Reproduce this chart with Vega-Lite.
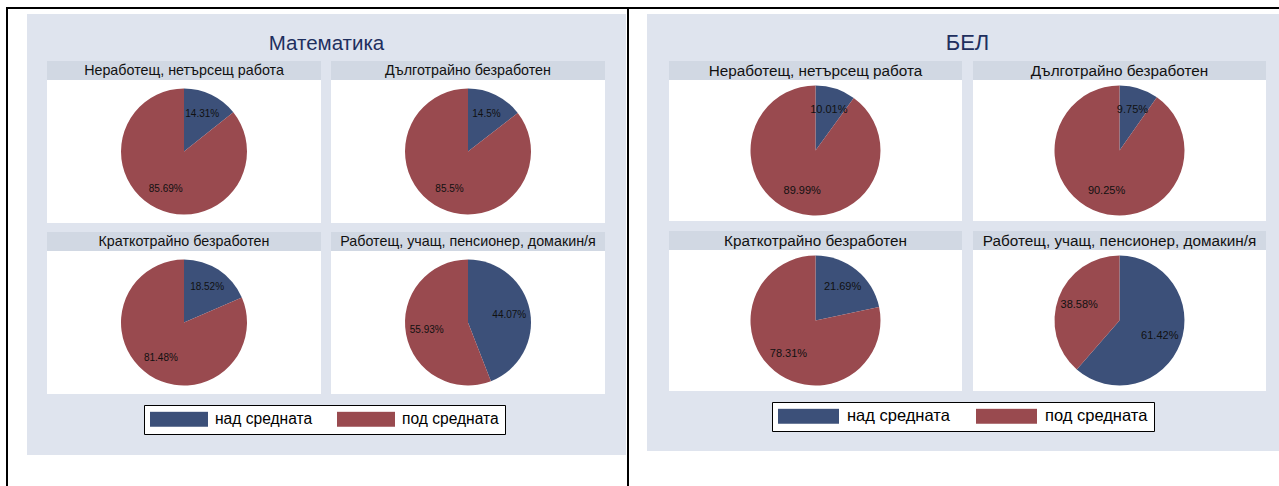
{
  "$schema": "https://vega.github.io/schema/vega-lite/v6.json",
  "padding": 0,
  "background": "#dfe4ee",
  "config": {
    "view": {"stroke": null},
    "concat": {"spacing": 0},
    "text": {"font": "Liberation Sans"},
    "legend": {"labelFont": "Liberation Sans"}
  },
  "data": {"values": [
    {"subject": "Математика", "status": "Неработещ, нетърсещ работа", "category": "над средната", "share": 0.1431},
    {"subject": "Математика", "status": "Неработещ, нетърсещ работа", "category": "под средната", "share": 0.8569},
    {"subject": "Математика", "status": "Дълготрайно безработен", "category": "над средната", "share": 0.145},
    {"subject": "Математика", "status": "Дълготрайно безработен", "category": "под средната", "share": 0.855},
    {"subject": "Математика", "status": "Краткотрайно безработен", "category": "над средната", "share": 0.1852},
    {"subject": "Математика", "status": "Краткотрайно безработен", "category": "под средната", "share": 0.8148},
    {"subject": "Математика", "status": "Работещ, учащ, пенсионер, домакин/я", "category": "над средната", "share": 0.4407},
    {"subject": "Математика", "status": "Работещ, учащ, пенсионер, домакин/я", "category": "под средната", "share": 0.5593},
    {"subject": "БЕЛ", "status": "Неработещ, нетърсещ работа", "category": "над средната", "share": 0.1001},
    {"subject": "БЕЛ", "status": "Неработещ, нетърсещ работа", "category": "под средната", "share": 0.8999},
    {"subject": "БЕЛ", "status": "Дълготрайно безработен", "category": "над средната", "share": 0.0975},
    {"subject": "БЕЛ", "status": "Дълготрайно безработен", "category": "под средната", "share": 0.9025},
    {"subject": "БЕЛ", "status": "Краткотрайно безработен", "category": "над средната", "share": 0.2169},
    {"subject": "БЕЛ", "status": "Краткотрайно безработен", "category": "под средната", "share": 0.7831},
    {"subject": "БЕЛ", "status": "Работещ, учащ, пенсионер, домакин/я", "category": "над средната", "share": 0.6142},
    {"subject": "БЕЛ", "status": "Работещ, учащ, пенсионер, домакин/я", "category": "под средната", "share": 0.3858}
  ]},
  "resolve": {"scale": {"color": "independent"}, "legend": {"color": "independent"}},
  "vconcat": [
    {"width": 1279, "height": 7, "data": {"values": []}, "mark": "rect", "view": {"fill": "white"}},
    {"hconcat": [
      {"width": 6, "height": 2, "data": {"values": []}, "mark": "rect", "view": {"fill": "white"}},
      {"width": 1273, "height": 2, "data": {"values": []}, "mark": "rect", "view": {"fill": "black"}}
    ]},
    {"resolve": {"scale": {"color": "independent"}, "legend": {"color": "independent"}},
     "hconcat": [
      {"width": 6, "height": 477, "data": {"values": []}, "mark": "rect", "view": {"fill": "white"}},
      {"width": 2, "height": 477, "data": {"values": []}, "mark": "rect", "view": {"fill": "black"}},
      {"resolve": {"scale": {"color": "independent"}, "legend": {"color": "independent"}},
       "vconcat": [
        {"width": 619, "height": 5, "data": {"values": []}, "mark": "rect", "view": {"fill": "white"}},
        {"resolve": {"scale": {"color": "independent"}, "legend": {"color": "independent"}},
         "hconcat": [
          {"width": 19, "height": 441, "data": {"values": []}, "mark": "rect", "view": {"fill": "white"}},
          {"resolve": {"scale": {"color": "independent"}, "legend": {"color": "independent"}},
           "vconcat": [
            {"width": 599, "height": 47,
             "transform": [{"filter": "datum.subject === 'Математика' && datum.status === 'Неработещ, нетърсещ работа' && datum.category === 'над средната'"}],
             "mark": {"type": "text", "fontSize": 20.5, "color": "#1e2f5e", "dy": 6.5},
             "encoding": {"text": {"field": "subject"}}},
            {"spacing": 10, "hconcat": [
              {"width": 10, "height": 1, "data": {"values": []}, "mark": "rect"},
              {"vconcat": [
                {"width": 274, "height": 19, "view": {"fill": "#d1d8e3"},
                 "transform": [{"filter": "datum.subject === 'Математика' && datum.status === 'Неработещ, нетърсещ работа' && datum.category === 'над средната'"}],
                 "mark": {"type": "text", "fontSize": 14.3, "color": "#111111"},
                 "encoding": {"text": {"field": "status"}}},
                {"width": 274, "height": 143, "view": {"fill": "white"},
                 "transform": [{"filter": "datum.subject === 'Математика' && datum.status === 'Неработещ, нетърсещ работа'"}],
                 "encoding": {
                   "theta": {"field": "share", "type": "quantitative", "stack": true},
                   "order": {"field": "category", "type": "ordinal", "sort": "ascending"},
                   "detail": {"field": "category", "type": "nominal"}},
                 "layer": [
                   {"mark": {"type": "arc", "radius": 63}, "encoding": {"color": {"condition": {"test": "datum.category === 'над средната'", "value": "#3c5079"}, "value": "#994a4f"}}},
                   {"mark": {"type": "text", "radius": 42, "fontSize": 10, "color": "#111111"}, "encoding": {"text": {"field": "share", "type": "quantitative", "format": ".2~%"}}}
                 ]}
              ]},
              {"vconcat": [
                {"width": 274, "height": 19, "view": {"fill": "#d1d8e3"},
                 "transform": [{"filter": "datum.subject === 'Математика' && datum.status === 'Дълготрайно безработен' && datum.category === 'над средната'"}],
                 "mark": {"type": "text", "fontSize": 14.3, "color": "#111111"},
                 "encoding": {"text": {"field": "status"}}},
                {"width": 274, "height": 143, "view": {"fill": "white"},
                 "transform": [{"filter": "datum.subject === 'Математика' && datum.status === 'Дълготрайно безработен'"}],
                 "encoding": {
                   "theta": {"field": "share", "type": "quantitative", "stack": true},
                   "order": {"field": "category", "type": "ordinal", "sort": "ascending"},
                   "detail": {"field": "category", "type": "nominal"}},
                 "layer": [
                   {"mark": {"type": "arc", "radius": 63}, "encoding": {"color": {"condition": {"test": "datum.category === 'над средната'", "value": "#3c5079"}, "value": "#994a4f"}}},
                   {"mark": {"type": "text", "radius": 42, "fontSize": 10, "color": "#111111"}, "encoding": {"text": {"field": "share", "type": "quantitative", "format": ".2~%"}}}
                 ]}
              ]}
            ]},
            {"width": 1, "height": 9, "data": {"values": []}, "mark": "rect"},
            {"spacing": 10, "hconcat": [
              {"width": 10, "height": 1, "data": {"values": []}, "mark": "rect"},
              {"vconcat": [
                {"width": 274, "height": 19, "view": {"fill": "#d1d8e3"},
                 "transform": [{"filter": "datum.subject === 'Математика' && datum.status === 'Краткотрайно безработен' && datum.category === 'над средната'"}],
                 "mark": {"type": "text", "fontSize": 14.3, "color": "#111111"},
                 "encoding": {"text": {"field": "status"}}},
                {"width": 274, "height": 143, "view": {"fill": "white"},
                 "transform": [{"filter": "datum.subject === 'Математика' && datum.status === 'Краткотрайно безработен'"}],
                 "encoding": {
                   "theta": {"field": "share", "type": "quantitative", "stack": true},
                   "order": {"field": "category", "type": "ordinal", "sort": "ascending"},
                   "detail": {"field": "category", "type": "nominal"}},
                 "layer": [
                   {"mark": {"type": "arc", "radius": 63}, "encoding": {"color": {"condition": {"test": "datum.category === 'над средната'", "value": "#3c5079"}, "value": "#994a4f"}}},
                   {"mark": {"type": "text", "radius": 42, "fontSize": 10, "color": "#111111"}, "encoding": {"text": {"field": "share", "type": "quantitative", "format": ".2~%"}}}
                 ]}
              ]},
              {"vconcat": [
                {"width": 274, "height": 19, "view": {"fill": "#d1d8e3"},
                 "transform": [{"filter": "datum.subject === 'Математика' && datum.status === 'Работещ, учащ, пенсионер, домакин/я' && datum.category === 'над средната'"}],
                 "mark": {"type": "text", "fontSize": 14.3, "color": "#111111"},
                 "encoding": {"text": {"field": "status"}}},
                {"width": 274, "height": 143, "view": {"fill": "white"},
                 "transform": [{"filter": "datum.subject === 'Математика' && datum.status === 'Работещ, учащ, пенсионер, домакин/я'"}],
                 "encoding": {
                   "theta": {"field": "share", "type": "quantitative", "stack": true},
                   "order": {"field": "category", "type": "ordinal", "sort": "ascending"},
                   "detail": {"field": "category", "type": "nominal"}},
                 "layer": [
                   {"mark": {"type": "arc", "radius": 63}, "encoding": {"color": {"condition": {"test": "datum.category === 'над средната'", "value": "#3c5079"}, "value": "#994a4f"}}},
                   {"mark": {"type": "text", "radius": 42, "fontSize": 10, "color": "#111111"}, "encoding": {"text": {"field": "share", "type": "quantitative", "format": ".2~%"}}}
                 ]}
              ]}
            ]},
            {"width": 599, "height": 61,
             "transform": [{"filter": "datum.subject === 'Математика'"}],
             "mark": {"type": "rect", "opacity": 0},
             "encoding": {"color": {"field": "category", "type": "nominal",
               "scale": {"domain": ["над средната", "под средната"], "range": ["#3c5079", "#994a4f"]},
               "legend": {"title": null, "orient": "none", "legendX": 117, "legendY": 11, "direction": "horizontal",
                 "symbolType": "M-1,-0.2586H1V0.2586H-1Z", "symbolSize": 3364, "symbolStrokeWidth": 0, "symbolOpacity": 1,
                 "clipHeight": 16, "labelFontSize": 15.6, "labelColor": "#000000", "labelOffset": 7, "labelBaseline": "middle",
                 "columnPadding": 24, "padding": 6, "strokeColor": "#000000", "fillColor": "#ffffff"}}}}
          ]},
          {"width": 1, "height": 441, "data": {"values": []}, "mark": "rect", "view": {"fill": "white"}}
        ]},
        {"width": 619, "height": 31, "data": {"values": []}, "mark": "rect", "view": {"fill": "white"}}
      ]},
      {"width": 2, "height": 477, "data": {"values": []}, "mark": "rect", "view": {"fill": "black"}},
      {"resolve": {"scale": {"color": "independent"}, "legend": {"color": "independent"}},
       "vconcat": [
        {"width": 650, "height": 5, "data": {"values": []}, "mark": "rect", "view": {"fill": "white"}},
        {"resolve": {"scale": {"color": "independent"}, "legend": {"color": "independent"}},
         "hconcat": [
          {"width": 18, "height": 437, "data": {"values": []}, "mark": "rect", "view": {"fill": "white"}},
          {"resolve": {"scale": {"color": "independent"}, "legend": {"color": "independent"}},
           "vconcat": [
            {"width": 632, "height": 47,
             "transform": [{"filter": "datum.subject === 'БЕЛ' && datum.status === 'Неработещ, нетърсещ работа' && datum.category === 'над средната'"}],
             "mark": {"type": "text", "fontSize": 22, "color": "#1e2f5e", "dy": 5.5, "dx": 4.5},
             "encoding": {"text": {"field": "subject"}}},
            {"spacing": 11, "hconcat": [
              {"width": 11, "height": 1, "data": {"values": []}, "mark": "rect"},
              {"vconcat": [
                {"width": 293, "height": 19, "view": {"fill": "#d1d8e3"},
                 "transform": [{"filter": "datum.subject === 'БЕЛ' && datum.status === 'Неработещ, нетърсещ работа' && datum.category === 'над средната'"}],
                 "mark": {"type": "text", "fontSize": 15.3, "color": "#111111"},
                 "encoding": {"text": {"field": "status"}}},
                {"width": 293, "height": 141, "view": {"fill": "white"},
                 "transform": [{"filter": "datum.subject === 'БЕЛ' && datum.status === 'Неработещ, нетърсещ работа'"}],
                 "encoding": {
                   "theta": {"field": "share", "type": "quantitative", "stack": true},
                   "order": {"field": "category", "type": "ordinal", "sort": "ascending"},
                   "detail": {"field": "category", "type": "nominal"}},
                 "layer": [
                   {"mark": {"type": "arc", "radius": 65}, "encoding": {"color": {"condition": {"test": "datum.category === 'над средната'", "value": "#3c5079"}, "value": "#994a4f"}}},
                   {"mark": {"type": "text", "radius": 43, "fontSize": 11, "color": "#111111"}, "encoding": {"text": {"field": "share", "type": "quantitative", "format": ".2~%"}}}
                 ]}
              ]},
              {"vconcat": [
                {"width": 293, "height": 19, "view": {"fill": "#d1d8e3"},
                 "transform": [{"filter": "datum.subject === 'БЕЛ' && datum.status === 'Дълготрайно безработен' && datum.category === 'над средната'"}],
                 "mark": {"type": "text", "fontSize": 15.3, "color": "#111111"},
                 "encoding": {"text": {"field": "status"}}},
                {"width": 293, "height": 141, "view": {"fill": "white"},
                 "transform": [{"filter": "datum.subject === 'БЕЛ' && datum.status === 'Дълготрайно безработен'"}],
                 "encoding": {
                   "theta": {"field": "share", "type": "quantitative", "stack": true},
                   "order": {"field": "category", "type": "ordinal", "sort": "ascending"},
                   "detail": {"field": "category", "type": "nominal"}},
                 "layer": [
                   {"mark": {"type": "arc", "radius": 65}, "encoding": {"color": {"condition": {"test": "datum.category === 'над средната'", "value": "#3c5079"}, "value": "#994a4f"}}},
                   {"mark": {"type": "text", "radius": 43, "fontSize": 11, "color": "#111111"}, "encoding": {"text": {"field": "share", "type": "quantitative", "format": ".2~%"}}}
                 ]}
              ]}
            ]},
            {"width": 1, "height": 10, "data": {"values": []}, "mark": "rect"},
            {"spacing": 11, "hconcat": [
              {"width": 11, "height": 1, "data": {"values": []}, "mark": "rect"},
              {"vconcat": [
                {"width": 293, "height": 19, "view": {"fill": "#d1d8e3"},
                 "transform": [{"filter": "datum.subject === 'БЕЛ' && datum.status === 'Краткотрайно безработен' && datum.category === 'над средната'"}],
                 "mark": {"type": "text", "fontSize": 15.3, "color": "#111111"},
                 "encoding": {"text": {"field": "status"}}},
                {"width": 293, "height": 141, "view": {"fill": "white"},
                 "transform": [{"filter": "datum.subject === 'БЕЛ' && datum.status === 'Краткотрайно безработен'"}],
                 "encoding": {
                   "theta": {"field": "share", "type": "quantitative", "stack": true},
                   "order": {"field": "category", "type": "ordinal", "sort": "ascending"},
                   "detail": {"field": "category", "type": "nominal"}},
                 "layer": [
                   {"mark": {"type": "arc", "radius": 65}, "encoding": {"color": {"condition": {"test": "datum.category === 'над средната'", "value": "#3c5079"}, "value": "#994a4f"}}},
                   {"mark": {"type": "text", "radius": 43, "fontSize": 11, "color": "#111111"}, "encoding": {"text": {"field": "share", "type": "quantitative", "format": ".2~%"}}}
                 ]}
              ]},
              {"vconcat": [
                {"width": 293, "height": 19, "view": {"fill": "#d1d8e3"},
                 "transform": [{"filter": "datum.subject === 'БЕЛ' && datum.status === 'Работещ, учащ, пенсионер, домакин/я' && datum.category === 'над средната'"}],
                 "mark": {"type": "text", "fontSize": 15.3, "color": "#111111"},
                 "encoding": {"text": {"field": "status"}}},
                {"width": 293, "height": 141, "view": {"fill": "white"},
                 "transform": [{"filter": "datum.subject === 'БЕЛ' && datum.status === 'Работещ, учащ, пенсионер, домакин/я'"}],
                 "encoding": {
                   "theta": {"field": "share", "type": "quantitative", "stack": true},
                   "order": {"field": "category", "type": "ordinal", "sort": "ascending"},
                   "detail": {"field": "category", "type": "nominal"}},
                 "layer": [
                   {"mark": {"type": "arc", "radius": 65}, "encoding": {"color": {"condition": {"test": "datum.category === 'над средната'", "value": "#3c5079"}, "value": "#994a4f"}}},
                   {"mark": {"type": "text", "radius": 43, "fontSize": 11, "color": "#111111"}, "encoding": {"text": {"field": "share", "type": "quantitative", "format": ".2~%"}}}
                 ]}
              ]}
            ]},
            {"width": 632, "height": 60,
             "transform": [{"filter": "datum.subject === 'БЕЛ'"}],
             "mark": {"type": "rect", "opacity": 0},
             "encoding": {"color": {"field": "category", "type": "nominal",
               "scale": {"domain": ["над средната", "под средната"], "range": ["#3c5079", "#994a4f"]},
               "legend": {"title": null, "orient": "none", "legendX": 125, "legendY": 11, "direction": "horizontal",
                 "symbolType": "M-1,-0.246H1V0.246H-1Z", "symbolSize": 3721, "symbolStrokeWidth": 0, "symbolOpacity": 1,
                 "clipHeight": 16, "labelFontSize": 16.5, "labelColor": "#000000", "labelOffset": 8, "labelBaseline": "middle",
                 "columnPadding": 26, "padding": 6, "strokeColor": "#000000", "fillColor": "#ffffff"}}}}
          ]}
        ]},
        {"width": 650, "height": 35, "data": {"values": []}, "mark": "rect", "view": {"fill": "white"}}
      ]}
    ]}
  ]
}
